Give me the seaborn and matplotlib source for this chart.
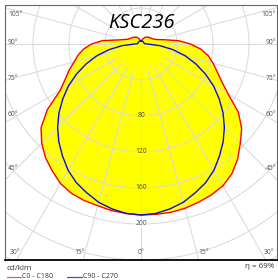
import numpy as np
import pandas as pd
import matplotlib
matplotlib.use("Agg")
import matplotlib.pyplot as plt
from matplotlib.lines import Line2D
import seaborn as sns

# ---- data (cd/klm) ----
gamma = [0, 5, 10, 15, 20, 25, 30, 35, 40, 45, 50, 55, 60, 65, 70, 75, 80, 85, 90,
         95, 100, 105, 110, 115, 120, 130, 140, 150, 160, 170, 180]
c180 = [190, 189, 188, 186, 185, 183, 179, 172, 165, 156, 145, 127, 104, 93, 85, 77, 71, 64, 55,
        43, 26, 19, 15.5, 14, 13, 11.5, 10, 8.5, 6, 4, 3.3]
c0 = [190, 190, 190, 189, 187, 185, 182, 176, 167, 156, 146, 132, 112, 99, 90, 83, 76, 67, 55,
      42, 27, 19, 15.5, 14, 13, 11.5, 10, 8.5, 6, 4, 3.3]
c90 = [190, 189, 186, 182, 176, 170, 162, 152, 142, 131, 119, 106, 93, 79, 65, 51, 36, 21, 7,
       4, 3.5, 3.5, 3.5, 3.5, 3.5, 3.5, 3.5, 3.5, 3.5, 3.5, 3.5]
ring_values = [40, 80, 120, 160, 200, 240, 280, 320]
ring_labels = [80, 120, 160, 200]
angle_step = 15
title = "KSC236"
unit = "cd/klm"
series_names = ["C0 - C180", "C90 - C270"]
eta_text = "\u03b7 = 69%"

sns.set_theme(style="white")
plt.rcParams['font.family'] = ['Open Sans', 'DejaVu Sans']

W, H = 278, 280
fig = plt.figure(figsize=(W / 100, H / 100), dpi=100)
# axes box in pixels: x 5..277, y 5..260
ax = fig.add_axes([5 / W, (H - 260) / H, 272 / W, 255 / H])
ax.set_xlim(-151.1, 151.1)
ax.set_ylim(-240, 43.33)
ax.set_xticks([])
ax.set_yticks([])


def to_xy(g, r, side):
    g = np.radians(np.asarray(g, float))
    r = np.asarray(r, float)
    return side * r * np.sin(g), -r * np.cos(g)


def closed_curve(left_vals, right_vals):
    xl, yl = to_xy(gamma, left_vals, -1)
    xr, yr = to_xy(gamma, right_vals, 1)
    x = np.concatenate([xl[::-1], xr[1:]])
    y = np.concatenate([yl[::-1], yr[1:]])
    return x, y


xr_, yr_ = closed_curve(c180, c0)
xb_, yb_ = closed_curve(c90, c90)

# yellow fill
ax.fill(xr_, yr_, color="#ffff00", lw=0, zorder=1)

# grid
grid_c = "#dadada"
t = np.linspace(0, 2 * np.pi, 400)
for rv in ring_values:
    ax.plot(rv * np.sin(t), rv * np.cos(t), color=grid_c, lw=0.75, zorder=2)
for a in range(0, 360, angle_step):
    ar = np.radians(a)
    ax.plot([30 * np.sin(ar), 500 * np.sin(ar)], [-30 * np.cos(ar), -500 * np.cos(ar)],
            color=grid_c, lw=0.75, zorder=2)

# curves
df_r = pd.DataFrame({"x": xr_, "y": yr_, "s": series_names[0]})
df_b = pd.DataFrame({"x": xb_, "y": yb_, "s": series_names[1]})
sns.lineplot(data=df_r, x="x", y="y", sort=False, estimator=None, color="#ff0000",
             lw=1.0, ax=ax, zorder=4)
sns.lineplot(data=df_b, x="x", y="y", sort=False, estimator=None, color="#0a0ae6",
             lw=1.0, ax=ax, zorder=5)
ax.set_xlabel("")
ax.set_ylabel("")

# ring labels
for rv in ring_labels:
    fc = "#ffff00" if rv < 190 else "white"
    ax.text(0, -rv, str(rv), ha="center", va="center", fontsize=4.9, color="#444444",
            zorder=6, bbox=dict(facecolor=fc, edgecolor="none", pad=0.4))

# angle labels (pixel positions)
def px(x, y):
    return x / W, 1 - y / H

lab_fs = 4.9
lab_c = "#505050"
side_labels = {105: 14, 90: 43, 75: 78, 60: 115, 45: 168}
for a, yy in side_labels.items():
    fig.text(*px(8, yy), f"{a}\u00b0", ha="left", va="center", fontsize=lab_fs, color=lab_c)
    fig.text(*px(276, yy), f"{a}\u00b0", ha="right", va="center", fontsize=lab_fs, color=lab_c)
bottom_labels = {30: (15, 269), 15: (80, 204), 0: (141, 141)}
for a, (xl, xr) in bottom_labels.items():
    fig.text(*px(xl, 253), f"{a}\u00b0", ha="center", va="center", fontsize=lab_fs, color=lab_c)
    if a != 0:
        fig.text(*px(xr, 253), f"{a}\u00b0", ha="center", va="center", fontsize=lab_fs, color=lab_c)

# title
ax.text(0.5, 1 - 17.5 / 255, title, transform=ax.transAxes, ha="center", va="center",
        fontsize=14.5, style="italic", color="black", zorder=7)

# spines
for s in ["left", "top", "right"]:
    ax.spines[s].set_color("#666666")
    ax.spines[s].set_linewidth(0.8)
ax.spines["bottom"].set_color("black")
ax.spines["bottom"].set_linewidth(1.3)

# footer
fig.text(*px(6.5, 268), unit, ha="left", va="center", fontsize=5.8, color="#333333")
fig.add_artist(Line2D([6.5 / W, 20.5 / W], [1 - 276.7 / H] * 2, color="#ff5050", lw=0.9))
fig.text(*px(21.5, 277), series_names[0], ha="left", va="center", fontsize=5.0, color="#333333")
fig.add_artist(Line2D([66.5 / W, 82 / W], [1 - 276.7 / H] * 2, color="#4040ff", lw=0.9))
fig.text(*px(83, 277), series_names[1], ha="left", va="center", fontsize=5.0, color="#333333")
fig.text(*px(274.5, 267), eta_text, ha="right", va="center", fontsize=5.8, color="#333333")

fig.savefig("out.png", dpi=100)
